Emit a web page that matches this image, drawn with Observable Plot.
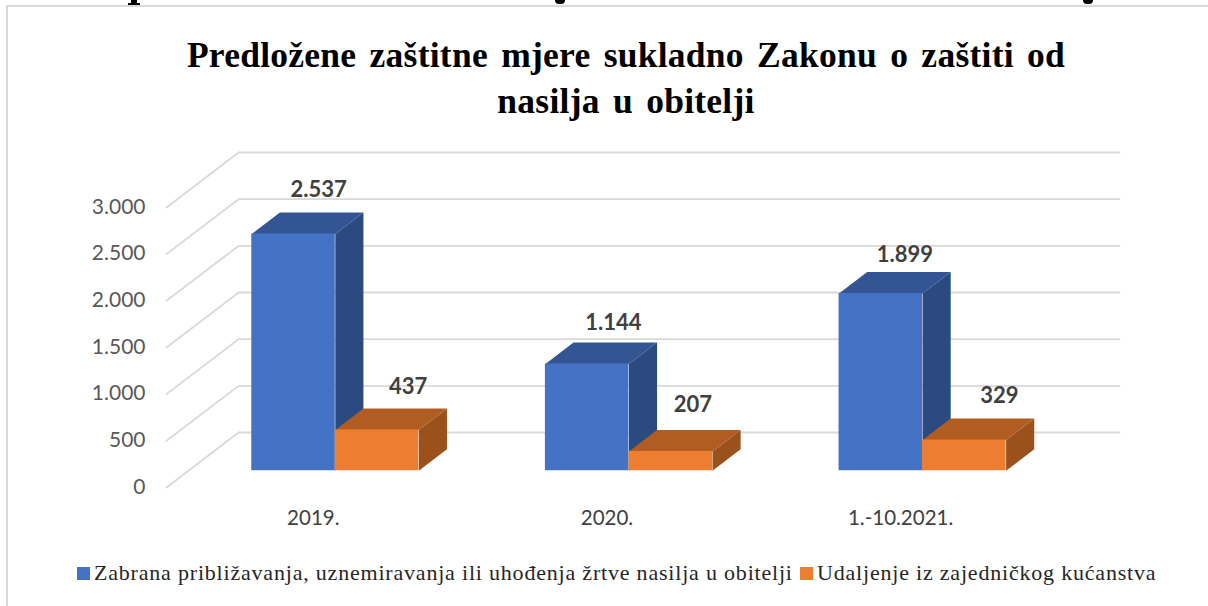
<!DOCTYPE html>
<html><head><meta charset="utf-8">
<script src="https://cdn.jsdelivr.net/npm/d3@7"></script>
<script src="https://cdn.jsdelivr.net/npm/@observablehq/plot@0.6"></script>
<style>
html,body{margin:0;padding:0;background:#fff;}
#page{position:relative;width:1208px;height:606px;overflow:hidden;background:#fff;}
#frame{position:absolute;left:6px;top:5px;width:1300px;height:700px;border:2px solid #d9d9d9;box-sizing:border-box;}
.rem{position:absolute;background:#000;}
#title{position:absolute;left:0;top:32px;width:1252px;text-align:center;font:bold 35.5px/46px "Liberation Serif",serif;color:#000;word-spacing:4.1px;letter-spacing:.25px;white-space:pre;}
#chart{position:absolute;left:0;top:130px;}
#legend{position:absolute;left:0;top:561px;font:22px/24px "Liberation Serif",serif;color:#262626;}
#legend span.t{position:absolute;white-space:nowrap;top:0;}
#legend span.s{position:absolute;top:6px;width:13px;height:13px;}
</style></head><body><div id="page">
<div class="rem" style="left:131px;top:0;width:6px;height:4px"></div>
<div class="rem" style="left:128px;top:3px;width:12px;height:2px"></div>
<div class="rem" style="left:555px;top:0;width:10px;height:4px;border-radius:0 0 5px 5px"></div>
<div class="rem" style="left:1083px;top:0;width:10px;height:4px;border-radius:0 0 5px 5px"></div>
<div id="frame"></div>
<div id="title">Predložene zaštitne mjere sukladno Zakonu o zaštiti od
nasilja u obitelji</div>
<div id="chart"></div>
<div id="legend"></div>
</div>
<script>
const categories = ["2019.", "2020.", "1.-10.2021."];
const seriesNames = ["Zabrana približavanja, uznemiravanja ili uhođenja žrtve nasilja u obitelji", "Udaljenje iz zajedničkog kućanstva"];
const zabrana = [2537, 1144, 1899];
const udaljenje = [437, 207, 329];
const yTicks = [0, 500, 1000, 1500, 2000, 2500, 3000];

// oblique projection of the 3D box: depth z (0 front .. 1 back) shifts a point in data units
const depthX = 0.2455, depthY = 589;
const gap = 0.2155, barW = 0.2845, zFront = 0.305, zBack = 0.695;
const px = (c, z) => c + z * depthX;
const py = (v, z) => v + z * depthY;
const fmt = v => d3.format(",")(v).replace(",", ".");

const faces = (i, s, v) => {
  const a = i + gap + s * barW, b = a + barW;
  const pt = (x, y, z) => ({x: px(x, z), y: py(y, z)});
  return {
    a, b,
    side: [pt(b,0,zFront), pt(b,0,zBack), pt(b,v,zBack), pt(b,v,zFront)],
    top: [pt(a,v,zFront), pt(a,v,zBack), pt(b,v,zBack), pt(b,v,zFront)],
    front: {x1: px(a,zFront), x2: px(b,zFront), y1: py(0,zFront), y2: py(v,zFront)},
    label: pt((a+b)/2, v, zBack)
  };
};

const palette = [
  {front:"#4472C4", side:"#2B4A80", top:"#335593"},
  {front:"#ED7D31", side:"#9A511C", top:"#B15D22"}
];
const labelNudge = [
  [[-3,-23],[-2,-20],[-4,-17]],
  [[3,-22],[-6,-25],[7,-23]]
];
const marks = [];
// wall gridlines: back line plus floor-side diagonal
for (const v of yTicks) {
  marks.push(Plot.line([{x:px(0,0),y:py(v,0)},{x:px(0,1),y:py(v,1)},{x:px(3,1),y:py(v,1)}],
    {x:"x",y:"y",stroke:"#d9d9d9",strokeWidth:1.8}));
}
categories.forEach((cat,i) => {
  [zabrana[i], udaljenje[i]].forEach((v,s) => {
    const f = faces(i,s,v), col = palette[s];
    marks.push(Plot.line(f.side,{x:"x",y:"y",fill:col.side,stroke:"none",curve:"linear-closed"}));
    marks.push(Plot.line(f.top,{x:"x",y:"y",fill:col.top,stroke:"none",curve:"linear-closed"}));
    marks.push(Plot.rect([f.front],{x1:"x1",x2:"x2",y1:"y1",y2:"y2",fill:col.front,inset:0}));
  });
});
categories.forEach((cat,i) => {
  [zabrana[i], udaljenje[i]].forEach((v,s) => {
    const f = faces(i,s,v), n = labelNudge[s][i];
    marks.push(Plot.text([f.label],{x:"x",y:"y",text:()=>fmt(v),dx:n[0],dy:n[1],fontWeight:"bold",fontSize:22,fill:"#404040",fontFamily:"Lato"}));
  });
});
marks.push(Plot.axisY({ticks:yTicks,tickFormat:fmt,tickSize:0,tickPadding:21,label:null,fontSize:21,fill:"#595959",dy:-0.5,fontFamily:"Lato"}));
marks.push(Plot.axisX({ticks:[0.5,1.5,2.5],tickFormat:d=>categories[d-0.5],tickSize:0,tickPadding:23,label:null,fontSize:20.5,fill:"#404040",fontFamily:"Lato"}));

const chart = Plot.plot({
  width:1208, height:420,
  marginLeft:166, marginRight:89, marginTop:22, marginBottom:63,
  x:{domain:[0,3+depthX],axis:null},
  y:{domain:[0,3000+depthY],axis:null},
  style:{background:"transparent",overflow:"visible"},
  marks
});
document.getElementById("chart").appendChild(chart);

const legend = document.getElementById("legend");
const items = [
  {name:seriesNames[0],c:palette[0].front,sx:76.5,tx:94,ls:".8px"},
  {name:seriesNames[1],c:palette[1].front,sx:799.5,tx:817,ls:".8px"}
];
for (const it of items) {
  const s = document.createElement("span"); s.className="s"; s.style.left=it.sx+"px"; s.style.background=it.c;
  const t = document.createElement("span"); t.className="t"; t.style.left=it.tx+"px"; t.style.letterSpacing=it.ls; t.textContent=it.name;
  legend.append(s,t);
}
</script></body></html>
